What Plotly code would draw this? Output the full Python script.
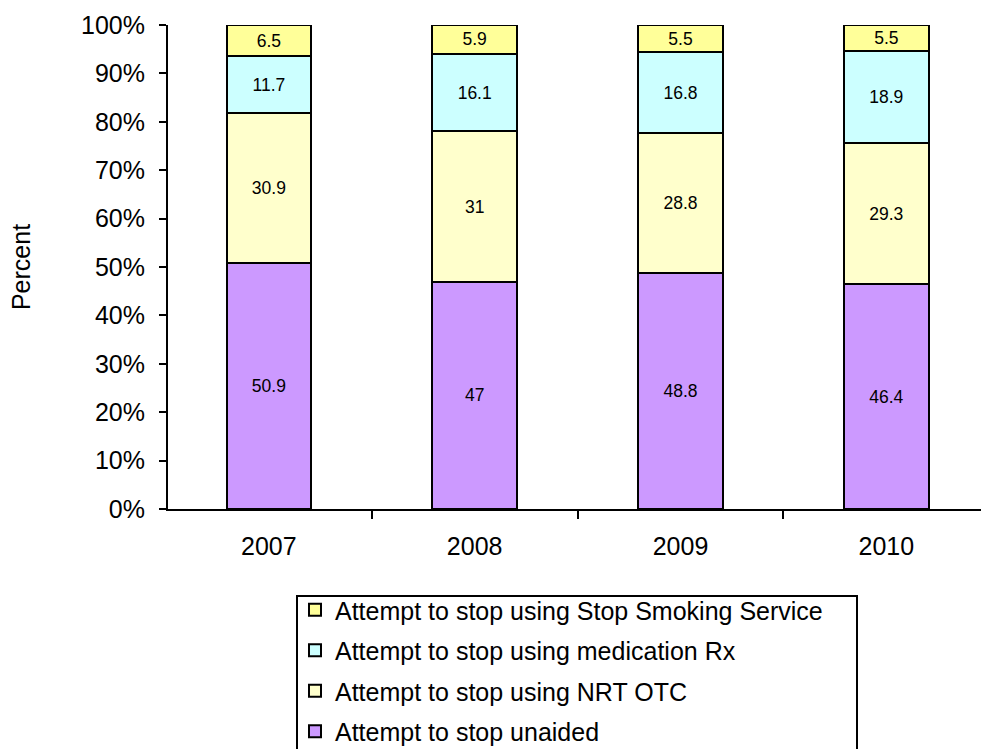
import plotly.graph_objects as go

years = ["2007", "2008", "2009", "2010"]
unaided = [50.9, 47, 48.8, 46.4]
nrt_otc = [30.9, 31, 28.8, 29.3]
medication_rx = [11.7, 16.1, 16.8, 18.9]
stop_service = [6.5, 5.9, 5.5, 5.5]

series = [
    ("Attempt to stop unaided", unaided, "#CC99FF"),
    ("Attempt to stop using NRT OTC", nrt_otc, "#FFFFCC"),
    ("Attempt to stop using medication Rx", medication_rx, "#CCFFFF"),
    ("Attempt to stop using Stop Smoking Service", stop_service, "#FFFF99"),
]

fig = go.Figure()
for i, (name, vals, col) in enumerate(series):
    fig.add_trace(go.Bar(
        x=years, y=vals, name=name, legendgroup=f"g{i}",
        legendrank=1000 - i,  # top segment first in the legend
        marker=dict(color=col, line=dict(color="black", width=2)),
        width=0.41,
        text=[f"{v:g}" for v in vals],
        textposition="inside", insidetextanchor="middle", textangle=0,
        textfont=dict(size=17.5, color="black", family="Arial"),
    ))

PW, PH, L, T, B = 981, 749, 168, 25, 240
plot_w, plot_h = PW - L, PH - T - B

def px_x(p):
    return (p - L) / plot_w

def px_y(p):
    return (PH - B - p) / plot_h

fig.update_layout(
    barmode="stack",
    width=PW, height=PH,
    margin=dict(l=L, r=0, t=T, b=B, autoexpand=False),
    paper_bgcolor="white", plot_bgcolor="white",
    font=dict(family="Arial, Liberation Sans", color="black", size=25),
    uniformtext=dict(minsize=17, mode="show"),
    legend=dict(
        traceorder="grouped", tracegroupgap=5,
        x=px_x(295), xanchor="left", y=px_y(587), yanchor="top",
        borderwidth=0, bgcolor="rgba(0,0,0,0)",
        font=dict(size=25),
        itemclick=False,
    ),
    shapes=[dict(
        type="rect", xref="paper", yref="paper",
        x0=px_x(297), x1=px_x(857), y0=px_y(596), y1=px_y(770),
        line=dict(color="black", width=2), layer="below",
    )],
)
fig.update_yaxes(
    range=[0, 100], dtick=10, ticksuffix="%",
    showline=True, linecolor="black", linewidth=2,
    ticks="outside", ticklen=7, tickwidth=2, tickcolor="black",
    ticklabelstandoff=9,
    showgrid=False, zeroline=False, automargin=False,
    title=dict(text="Percent", font=dict(size=25), standoff=43),
)
fig.update_xaxes(
    type="category", range=[-0.49, 3.46],
    showline=True, linecolor="black", linewidth=2,
    ticks="outside", ticklen=8, tickwidth=2, tickcolor="black",
    tickson="boundaries", ticklabelstandoff=14,
    showgrid=False, automargin=False,
)

# drop the default 8px body margin so the chart fills the window
fig.write_html("out.html", config={"displayModeBar": False},
               post_script="document.body.style.margin='0';")
